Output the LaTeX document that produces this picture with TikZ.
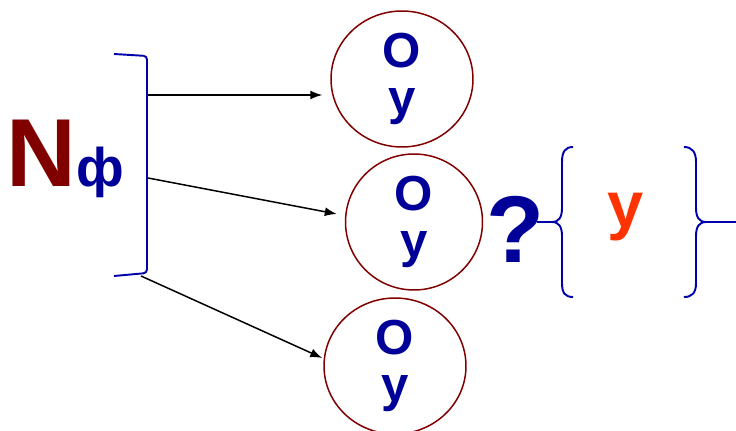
\documentclass[tikz,border=0pt]{standalone}
\usepackage{fontspec}
\setmainfont{Liberation Sans}
\usetikzlibrary{arrows.meta,shapes.geometric}
\definecolor{Maroon}{RGB}{128,0,0}
\definecolor{Navy}{RGB}{0,0,153}
\definecolor{Brace}{RGB}{0,0,170}
\definecolor{Flame}{RGB}{255,51,0}
\tikzset{
  ring/.style={ellipse,draw=Maroon,line width=0.85pt,minimum width=2.84cm,minimum height=2.72cm,inner sep=0pt,align=center,text=Navy,font=\bfseries\fontsize{28}{26.7}\selectfont},
  flow/.style={-{Latex[length=2.4mm,width=1.8mm]},line width=0.85pt,draw=black},
  bracketline/.style={draw=Brace,line width=1.1pt,rounded corners=2pt},
  braceline/.style={draw=Brace,line width=1.1pt}
}

\begin{document}
\begin{tikzpicture}[x=0.02cm,y=-0.02cm]
\useasboundingbox (0,0) rectangle (736,431);
% left side
\node[anchor=base west,inner sep=0pt,font=\bfseries] (nf) at (6,187) {\textcolor{Maroon}{\fontsize{55}{60}\selectfont N}\textcolor{Navy}{\fontsize{31}{36}\selectfont ф}};
\draw[bracketline] (114,54) -- (147,56) -- (147,273) -- (114,276);
\coordinate (b1) at (148,95);
\coordinate (b2) at (148,178);
\coordinate (b3) at (141,276);
% circles
\node[ring] (c1) at (402,79) {О\\у};
\node[ring,minimum width=2.74cm] (c2) at (414,222) {О\\у};
\node[ring] (c3) at (395,366) {О\\у};
\draw[flow] (b1) -- ([shift={(-8,0)}]b1 -| c1.west);
\draw[flow] (b2) -- ([shift={(-8,-8)}]c2.west);
\draw[flow] (b3) -- ([shift={(-1,-8)}]c3.west);
% question and braces
\node[anchor=base,inner sep=0pt,text=Navy,font=\bfseries\fontsize{54}{60}\selectfont] (qm) at (515,263) {?};
\node[anchor=base,inner sep=0pt,text=Flame,font=\bfseries\fontsize{37}{40}\selectfont] (yy) at (626,228) {у};
\draw[braceline] (573,147) .. controls (565,147) and (562,152) .. (562,162) -- (562,208)
  .. controls (562,217) and (559,222) .. (552,222) .. controls (559,222) and (562,227) .. (562,236)
  -- (562,283) .. controls (562,293) and (565,297) .. (573,297);
\draw[braceline] (552,222) -- (537,222);
\draw[braceline] (684,147) .. controls (692,147) and (696,152) .. (696,162) -- (696,208)
  .. controls (696,217) and (699,222) .. (706,222) .. controls (699,222) and (696,227) .. (696,236)
  -- (696,283) .. controls (696,293) and (692,297) .. (684,297);
\draw[braceline] (706,222) -- (736,222);
\end{tikzpicture}
\end{document}
